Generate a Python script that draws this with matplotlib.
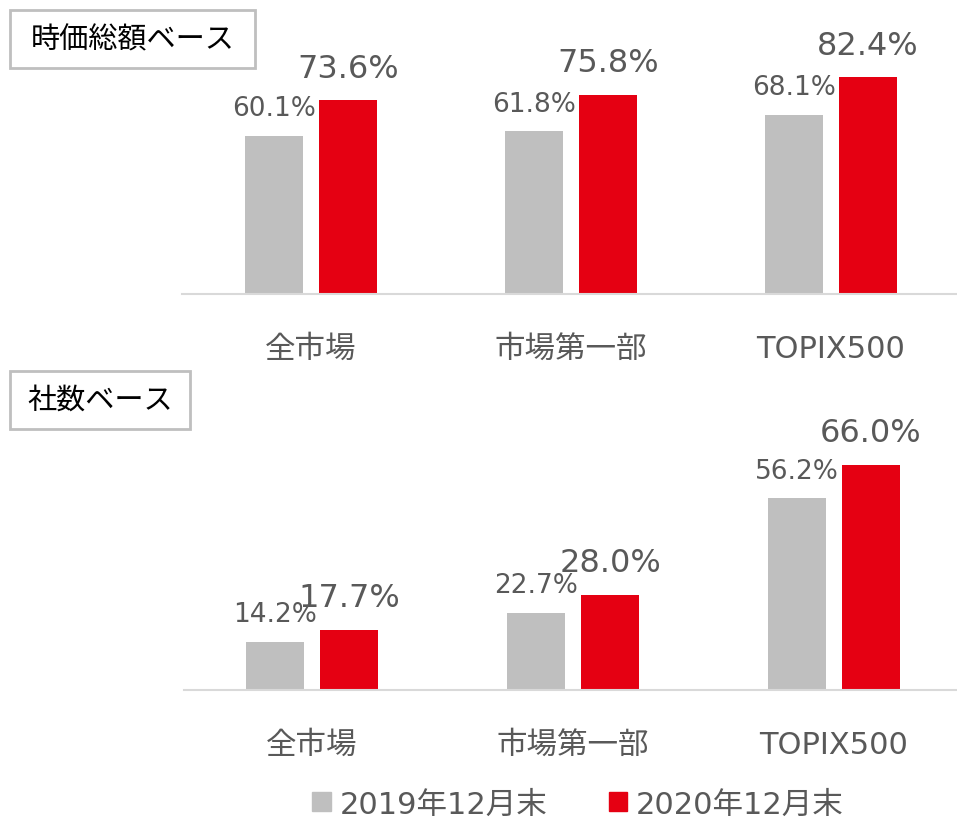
import numpy as np
import matplotlib.pyplot as plt
from matplotlib.patches import Patch, Rectangle

plt.rcParams['font.family'] = ['DejaVu Sans', 'Noto Sans CJK JP']

categories = ["全市場", "市場第一部", "TOPIX500"]
series_names = ["2019年12月末", "2020年12月末"]
cap_2019 = [60.1, 61.8, 68.1]
cap_2020 = [73.6, 75.8, 82.4]
cnt_2019 = [14.2, 22.7, 56.2]
cnt_2020 = [17.7, 28.0, 66.0]

GRAY = "#BFBFBF"
RED = "#E50012"
TXT = "#595959"

W, H = 957, 820
fig = plt.figure(figsize=(W / 100, H / 100), dpi=100)


def panel(left, baseline, height, step, first, title, box, v1, v2):
    ax = fig.add_axes([left / W, 1 - baseline / H, (W - left) / W, height / H])
    ax.patch.set_visible(False)
    x = np.arange(len(categories))
    off = 37 / step
    wid = 58 / step
    ax.bar(x - off, v1, wid, color=GRAY)
    ax.bar(x + off, v2, wid, color=RED)
    for xi, a, b in zip(x, v1, v2):
        ax.annotate(f"{a:.1f}%", (xi - off, a), xytext=(0, 15), textcoords="offset points",
                    ha="center", va="baseline", fontsize=19, color=TXT)
        ax.annotate(f"{b:.1f}%", (xi + off, b), xytext=(0, 17), textcoords="offset points",
                    ha="center", va="baseline", fontsize=23, color=TXT)
    ax.set_xlim(-first / step, (W - left - first) / step)
    ax.set_ylim(0, 100)
    ax.set_xticks(x, categories)
    ax.tick_params(axis="x", length=0, pad=29, labelsize=22, labelcolor=TXT)
    ax.set_yticks([])
    for s in ["top", "left", "right"]:
        ax.spines[s].set_visible(False)
    ax.spines["bottom"].set_color("#D9D9D9")
    ax.spines["bottom"].set_linewidth(1.5)
    bx0, by0, bx1, by1 = box
    fig.patches.append(Rectangle((bx0 / W, 1 - by1 / H), (bx1 - bx0) / W, (by1 - by0) / H,
                                 transform=fig.transFigure, fill=False,
                                 edgecolor="#BFBFBF", linewidth=2))
    fig.text((bx0 + bx1) / 2 / W, 1 - (by0 + by1) / 2 / H, title, ha="center", va="center",
             fontsize=21, color="black")
    return ax


panel(182, 295, 263, 260, 129, "時価総額ベース", (10, 11, 255, 69), cap_2019, cap_2020)
panel(184, 691, 341, 261, 128, "社数ベース", (10, 372, 190, 430), cnt_2019, cnt_2020)

handles = [Patch(color=GRAY), Patch(color=RED)]
fig.legend(handles, series_names, loc="center", bbox_to_anchor=(578 / W, 1 - 805 / H),
           ncol=2, frameon=False, fontsize=22, labelcolor=TXT, handlelength=0.6,
           handleheight=0.6, handletextpad=0.3, columnspacing=2.0)

fig.savefig("out.png", dpi=100)
